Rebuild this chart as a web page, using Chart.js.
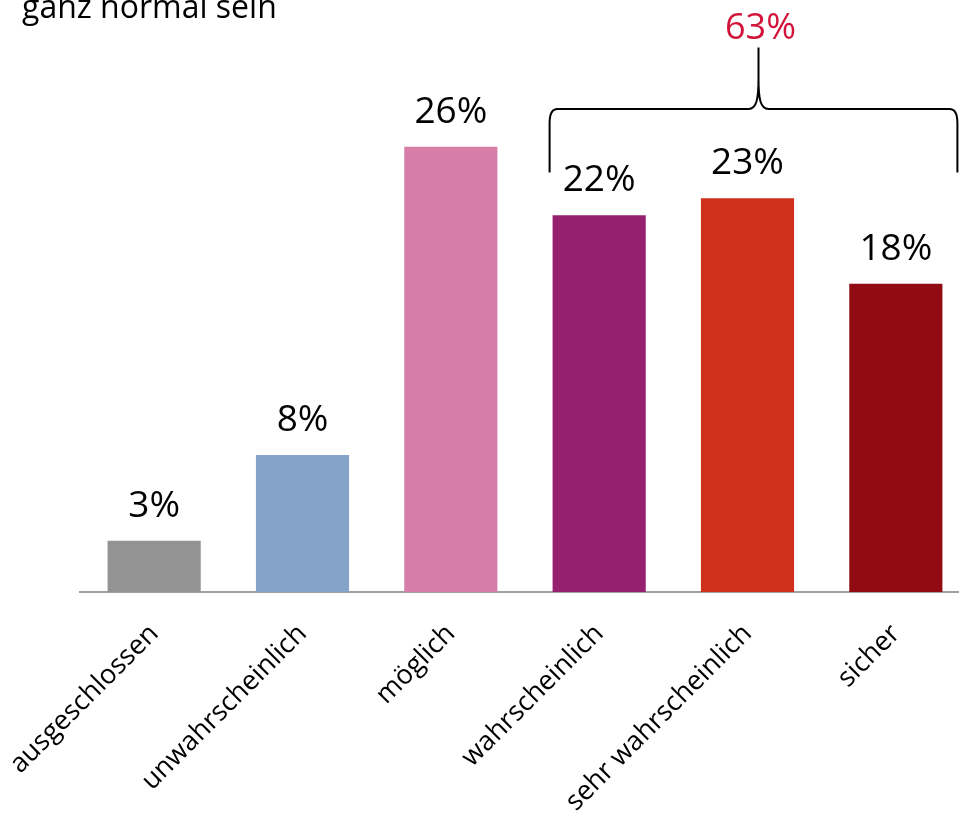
<!DOCTYPE html>
<html>
<head>
<meta charset="utf-8">
<script src="https://cdn.jsdelivr.net/npm/chart.js@4"></script>
<style>
  html, body { margin: 0; padding: 0; background: #fff; overflow: hidden; }
  #wrap { width: 970px; height: 817px; }
</style>
</head>
<body>
<div id="wrap"><canvas id="chartSicher" width="970" height="817"></canvas></div>
<script>
const kategorien = ["ausgeschlossen", "unwahrscheinlich", "möglich", "wahrscheinlich", "sehr wahrscheinlich", "sicher"];
const werte = [3, 8, 26, 22, 23, 18];
const farben = ["#939393", "#85a2c8", "#d77ea8", "#962070", "#d0301b", "#900c12"];
const titelZeile = "ganz normal sein";
// Klammer über wahrscheinlich .. sicher
const klammerVon = 3;
const klammerBis = 5;

const schrift = "'Open Sans', 'Noto Sans', sans-serif";

const beschriftung = {
  id: "beschriftung",
  afterDraw: (chart) => {
    const { ctx, scales } = chart;
    const meta = chart.getDatasetMeta(0);
    ctx.save();

    // Titelrest oben links
    ctx.fillStyle = "#000";
    ctx.font = `32px ${schrift}`;
    ctx.textAlign = "left";
    ctx.textBaseline = "alphabetic";
    ctx.fillText(titelZeile, 22, 18);

    // Werte über den Balken
    ctx.font = `37px ${schrift}`;
    ctx.textAlign = "center";
    meta.data.forEach((bar, i) => {
      ctx.fillText(werte[i] + "%", bar.x, bar.y - 24);
    });

    // Klammer
    const a = meta.data[klammerVon];
    const b = meta.data[klammerBis];
    const links = a.x - a.width / 2 - 3;
    const rechts = b.x + b.width / 2 + 15;
    const mitte = (links + rechts) / 2 + 5;
    const yArm = scales.y.getPixelForValue(24.5);
    const yQuer = scales.y.getPixelForValue(28.2);
    const ySpitze = scales.y.getPixelForValue(31.8);

    ctx.strokeStyle = "#000";
    ctx.lineWidth = 2;
    ctx.beginPath();
    ctx.moveTo(links, yArm);
    ctx.lineTo(links, yQuer + 14);
    ctx.quadraticCurveTo(links, yQuer, links + 8, yQuer);
    ctx.lineTo(mitte - 10, yQuer);
    ctx.bezierCurveTo(mitte - 2, yQuer, mitte, yQuer - 10, mitte, yQuer - 30);
    ctx.lineTo(mitte, ySpitze);
    ctx.moveTo(mitte, yQuer - 30);
    ctx.bezierCurveTo(mitte, yQuer - 10, mitte + 2, yQuer, mitte + 10, yQuer);
    ctx.lineTo(rechts - 8, yQuer);
    ctx.quadraticCurveTo(rechts, yQuer, rechts, yQuer + 14);
    ctx.lineTo(rechts, yArm);
    ctx.stroke();

    // Summe
    let summe = 0;
    for (let i = klammerVon; i <= klammerBis; i++) summe += werte[i];
    ctx.fillStyle = "#d2143a";
    ctx.font = `36px ${schrift}`;
    ctx.textAlign = "center";
    ctx.fillText(summe + "%", mitte + 2, ySpitze - 8);

    ctx.restore();
  },
};

const grafik = new Chart(document.getElementById("chartSicher"), {
  type: "bar",
  data: {
    labels: kategorien,
    datasets: [
      {
        data: werte,
        backgroundColor: farben,
        borderWidth: 0,
        categoryPercentage: 1,
        barPercentage: 0.628,
      },
    ],
  },
  options: {
    responsive: false,
    animation: false,
    layout: {
      padding: { left: 80, right: 0, top: 44, bottom: 0 },
    },
    plugins: {
      legend: { display: false },
      tooltip: { enabled: false },
    },
    scales: {
      x: {
        grid: { display: false },
        border: { display: true, color: "#a0a0a0", width: 2 },
        ticks: {
          color: "#000",
          font: { family: schrift, size: 27 },
          minRotation: 45,
          maxRotation: 45,
          padding: 18,
        },
        afterFit: (scale) => {
          scale.height = 225;
          scale.paddingLeft = 0;
          scale.paddingRight = 0;
        },
      },
      y: {
        display: false,
        min: 0,
        max: 32,
      },
    },
  },
  plugins: [beschriftung],
});
</script>
</body>
</html>
